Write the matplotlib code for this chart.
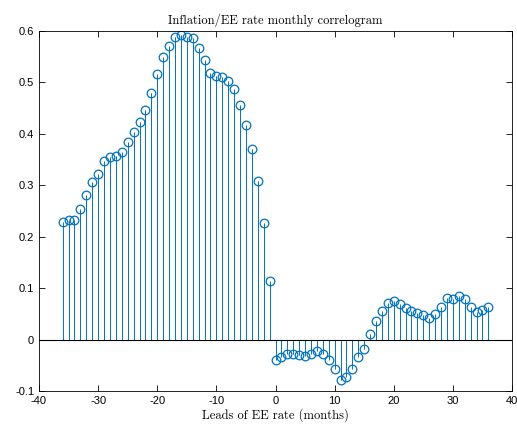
import numpy as np
import matplotlib.pyplot as plt

# Cross-correlation of inflation with leads of the EE rate
leads = np.arange(-36, 37)
corr = [0.229, 0.233, 0.233, 0.254, 0.281, 0.307, 0.321, 0.347, 0.355, 0.356,
        0.365, 0.384, 0.403, 0.423, 0.447, 0.479, 0.516, 0.549, 0.570, 0.588,
        0.593, 0.588, 0.586, 0.566, 0.543, 0.518, 0.513, 0.510, 0.503, 0.488,
        0.456, 0.418, 0.370, 0.308, 0.227, 0.113,
        -0.040, -0.034, -0.029, -0.029, -0.030, -0.032, -0.029, -0.022, -0.029,
        -0.040, -0.058, -0.078, -0.073, -0.058, -0.033, -0.018, 0.010, 0.036,
        0.056, 0.072, 0.075, 0.070, 0.062, 0.056, 0.051, 0.048, 0.042, 0.049,
        0.064, 0.080, 0.079, 0.085, 0.078, 0.064, 0.053, 0.057, 0.064]

xticks = np.arange(-40, 41, 10)
yticks = np.round(np.arange(-0.1, 0.61, 0.1), 1)

blue = '#0072BD'

fig = plt.figure(figsize=(5.17, 4.26), dpi=100)
ax = fig.add_axes([39 / 517, 35 / 426, 473 / 517, 360 / 426])

markers, stems, base = ax.stem(leads, corr, basefmt='k-')
plt.setp(stems, color=blue, linewidth=0.7)
plt.setp(markers, markerfacecolor='none', markeredgecolor=blue,
         markersize=6.2, markeredgewidth=0.9)
plt.setp(base, linewidth=0.8)
base.set_xdata([-40, 40])

ax.set_xlim(-40, 40)
ax.set_ylim(-0.1, 0.6)
ax.set_xticks(xticks)
ax.set_xticklabels([str(t) for t in xticks])
ax.set_yticks(yticks)
ax.set_yticklabels(['0' if t == 0 else f'{t:g}' for t in yticks])
ax.tick_params(direction='in', top=True, right=True, labelsize=8,
               length=4, width=0.6)
for lab in ax.get_xticklabels() + ax.get_yticklabels():
    lab.set_family('Liberation Sans')
for s in ax.spines.values():
    s.set_linewidth(0.6)

ax.set_title('Inflation/EE rate monthly correlogram', fontfamily='cmr10',
             fontsize=9, pad=5)
ax.set_xlabel('Leads of EE rate (months)', fontfamily='cmr10', fontsize=9,
              labelpad=2)

fig.savefig('out.png', dpi=100)
